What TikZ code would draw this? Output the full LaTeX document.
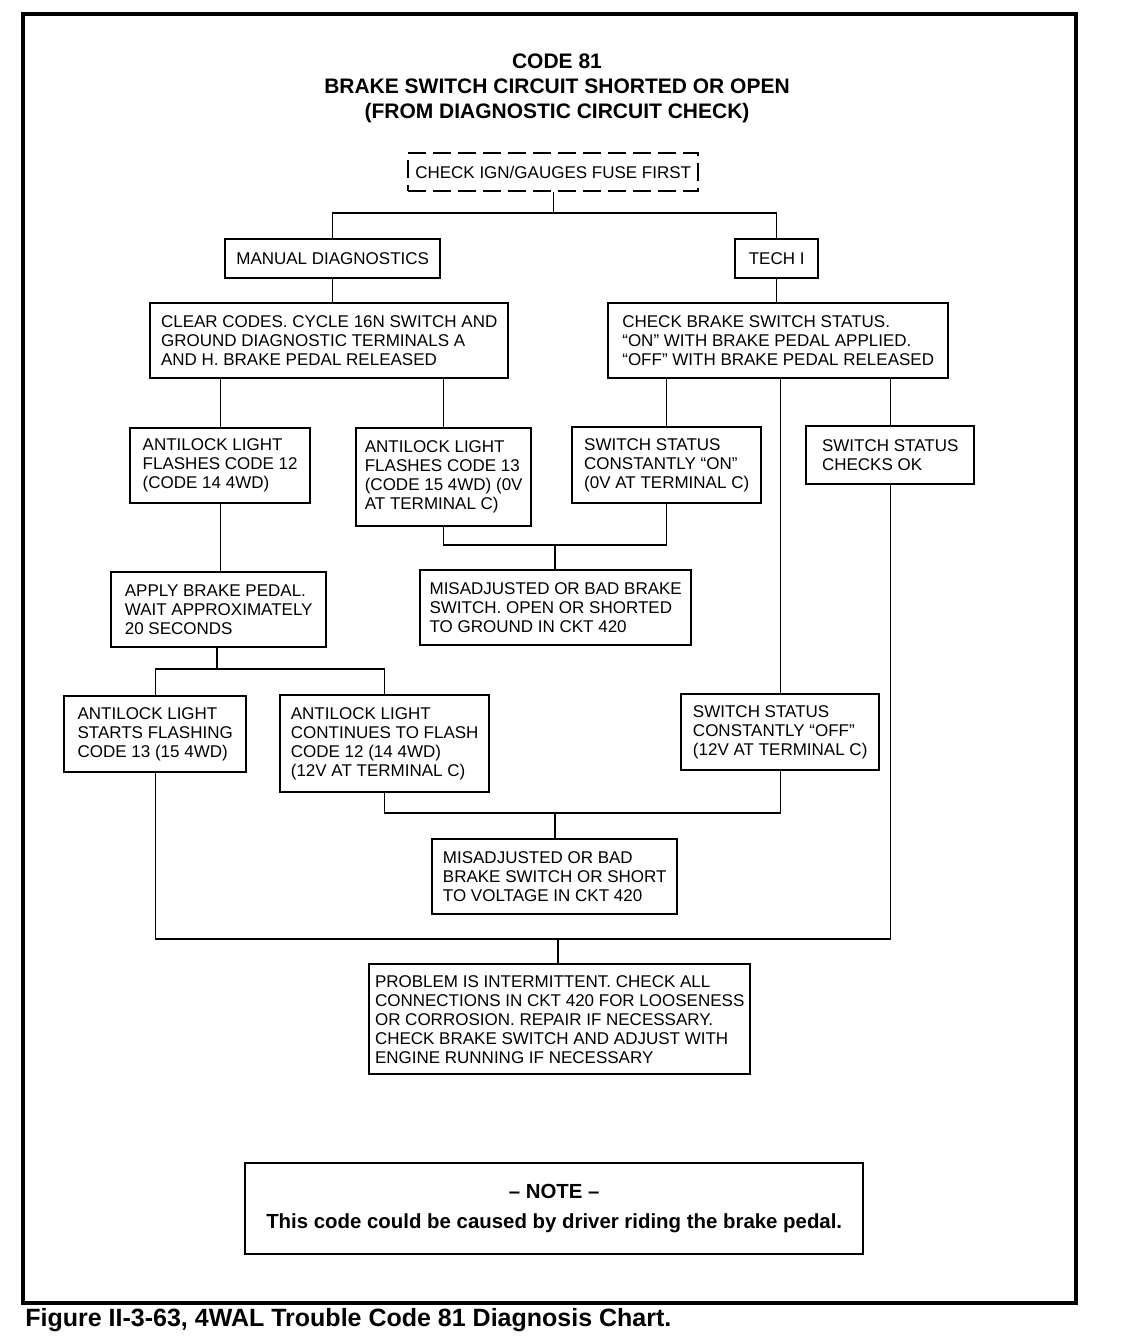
\documentclass[tikz,border=0pt]{standalone}
\usepackage{fontspec}
\setmainfont{Liberation Sans}
\usetikzlibrary{calc}

\begin{document}
\begin{tikzpicture}[x=0.5pt,y=-0.5pt,
    box/.style={draw,line width=1.2pt,anchor=north west,align=left,inner sep=0pt,
        font={\fontsize{8.5}{9.5}\selectfont}},
    link/.style={line width=0.7pt}]
\useasboundingbox (0,0) rectangle (1120,1344);

\coordinate (top) at (553,213);
\coordinate (joinon) at (555,545);
\coordinate (joinapply) at (217,669);
\coordinate (joinoff) at (555,813);
\coordinate (joinall) at (558,939);

\newcommand{\chartbox}[7][]{
    \node[box,#1,minimum width=#5*0.5pt,minimum height=#6*0.5pt] (#2) at (#3,#4) {#7};
}

\newcommand{\vlink}[2]{
    \draw[link] (#1) -- (#1 |- #2);
}

% frame and headings
\draw[line width=2pt] (23,14) rectangle (1076,1303);
\node[font={\bfseries\fontsize{10.5}{12.5}\selectfont},align=center] (title) at (557,88)
    {CODE 81\\BRAKE SWITCH CIRCUIT SHORTED OR OPEN\\(FROM DIAGNOSTIC CIRCUIT CHECK)};
\node[anchor=west,inner sep=0pt,font={\bfseries\fontsize{12.5}{15}\selectfont}] (caption) at (25,1320)
    {Figure II-3-63, 4WAL Trouble Code 81 Diagnosis Chart.};

% boxes
\chartbox[dashed,dash pattern=on 9pt off 3.5pt]{fuse}{407}{152}{290}{38}{CHECK IGN/GAUGES FUSE FIRST}
\chartbox{manual}{224}{238}{215}{39}{MANUAL DIAGNOSTICS}
\chartbox{tech}{734}{238}{83}{39}{TECH I}
\chartbox{clear}{149}{302}{358}{75}{CLEAR CODES. CYCLE 16N SWITCH AND\\GROUND DIAGNOSTIC TERMINALS A\\AND H. BRAKE PEDAL RELEASED}
\chartbox{check}{607}{302}{340}{75}{CHECK BRAKE SWITCH STATUS.\\“ON” WITH BRAKE PEDAL APPLIED.\\“OFF” WITH BRAKE PEDAL RELEASED}
\chartbox{flashA}{129}{427}{180}{75}{ANTILOCK LIGHT\\FLASHES CODE 12\\(CODE 14 4WD)}
\chartbox{flashB}{355}{427}{175}{98}{ANTILOCK LIGHT\\FLASHES CODE 13\\(CODE 15 4WD) (0V\\AT TERMINAL C)}
\chartbox{stOn}{571}{426}{189}{76}{SWITCH STATUS\\CONSTANTLY “ON”\\(0V AT TERMINAL C)}
\chartbox{stOk}{805}{425}{168}{58}{SWITCH STATUS\\CHECKS OK}
\chartbox{misGnd}{419}{569}{271}{75}{MISADJUSTED OR BAD BRAKE\\SWITCH. OPEN OR SHORTED\\TO GROUND IN CKT 420}
\chartbox{apply}{110}{571}{215}{75}{APPLY BRAKE PEDAL.\\WAIT APPROXIMATELY\\20 SECONDS}
\chartbox{starts}{63}{695}{182}{76}{ANTILOCK LIGHT\\STARTS FLASHING\\CODE 13 (15 4WD)}
\chartbox{cont}{279}{694}{209}{97}{ANTILOCK LIGHT\\CONTINUES TO FLASH\\CODE 12 (14 4WD)\\(12V AT TERMINAL C)}
\chartbox{stOff}{680}{693}{198}{76}{SWITCH STATUS\\CONSTANTLY “OFF”\\(12V AT TERMINAL C)}
\chartbox{misVolt}{431}{838}{245}{75}{MISADJUSTED OR BAD\\BRAKE SWITCH OR SHORT\\TO VOLTAGE IN CKT 420}
\chartbox{problem}{368}{963}{381}{110}{PROBLEM IS INTERMITTENT. CHECK ALL\\CONNECTIONS IN CKT 420 FOR LOOSENESS\\OR CORROSION. REPAIR IF NECESSARY.\\CHECK BRAKE SWITCH AND ADJUST WITH\\ENGINE RUNNING IF NECESSARY}
\chartbox[align=center,font={\bfseries\fontsize{10.2}{15}\selectfont}]{note}{244}{1162}{618}{91}{– NOTE –\\This code could be caused by driver riding the brake pedal.}

% links
\vlink{fuse.south}{top}
\draw[link] (manual.north) |- (top) -| (tech.north);
\vlink{manual.south}{clear.north}
\vlink{tech.south}{check.north}
\vlink{flashA.north}{clear.south}
\vlink{flashB.north}{clear.south}
\vlink{stOn.north}{check.south}
\vlink{stOff.north}{check.south}
\vlink{stOk.north}{check.south}
\draw[link] (flashB.south) |- (joinon) -| (stOn.south);
\vlink{joinon}{misGnd.north}
\vlink{flashA.south}{apply.north}
\draw[link] (starts.north) |- (joinapply) -| (cont.north);
\vlink{joinapply}{apply.south}
\draw[link] (cont.south) |- (joinoff) -| (stOff.south);
\vlink{joinoff}{misVolt.north}
\draw[link] (starts.south) |- (joinall) -| (stOk.south);
\vlink{joinall}{problem.north}
\end{tikzpicture}
\end{document}
